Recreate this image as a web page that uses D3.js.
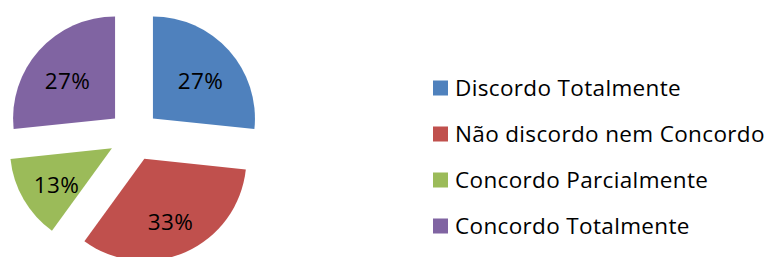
<!DOCTYPE html>
<html><head><meta charset="utf-8">
<script src="https://cdn.jsdelivr.net/npm/d3@7"></script>
<style>html,body{margin:0;padding:0;background:#fff;}svg{display:block;}</style>
</head><body>
<svg id="chart" width="765" height="257"></svg>
<script>
const categories = ["Discordo Totalmente","Não discordo nem Concordo","Concordo Parcialmente","Concordo Totalmente"];
const values = [4, 5, 2, 4];
const colors = ["#4F81BD","#C0504D","#9BBB59","#8064A2"];

const svg = d3.select("#chart");
const font = "'Open Sans', Lato, sans-serif";
const cx = 134, cy = 135.5, r = 102, explode = 25.5;

const pie = d3.pie().sort(null).value(d => d)(values);
const arc = d3.arc().innerRadius(0).outerRadius(r);
const labelArc = d3.arc().innerRadius(0).outerRadius(128);
const total = d3.sum(values);
const fmt = d3.format(".0%");

const g = svg.append("g").attr("transform", `translate(${cx},${cy})`);
const slices = g.selectAll("g.slice").data(pie).enter().append("g")
  .attr("transform", d => {
    const m = (d.startAngle + d.endAngle) / 2;
    return `translate(${explode*Math.sin(m)},${-explode*Math.cos(m)})`;
  });
slices.append("path").attr("d", arc).attr("fill", (d,i) => colors[i]);
slices.append("text")
  .attr("transform", d => `translate(${labelArc.centroid(d)})`)
  .attr("text-anchor", "middle").attr("y", 5).attr("dy", "0.36em")
  .style("font-family", font).style("font-size", "22.5px").style("letter-spacing", "0.4px").attr("fill", "#000")
  .text(d => fmt(d.data / total));

const ly = d3.scalePoint().domain(categories).range([88, 226]);
const leg = svg.append("g").selectAll("g").data(categories).enter().append("g")
  .attr("transform", d => `translate(433,${ly(d)})`);
leg.append("rect").attr("x", 0).attr("y", -7.5).attr("width", 15).attr("height", 15)
  .attr("fill", (d,i) => colors[i]);
leg.append("text").attr("x", 22).attr("dy", "0.36em")
  .style("font-family", font).style("font-size", "22.5px").style("letter-spacing", "0.35px").attr("fill", "#000")
  .text(d => d);
</script>
</body></html>
